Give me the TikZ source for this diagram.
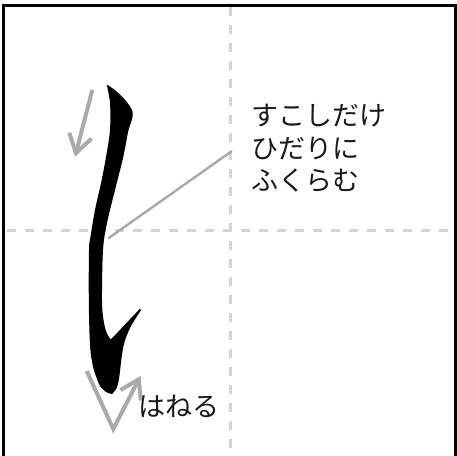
\documentclass[tikz,border=0pt]{standalone}
\usepackage{fontspec}
\newfontfamily\jpfont{Noto Sans CJK JP}
\usetikzlibrary{arrows.meta}
\definecolor{guidegray}{RGB}{212,212,212}
\definecolor{arrowgray}{RGB}{170,170,170}
\tikzset{
  guide/.style={draw=guidegray, line width=3pt, dash pattern=on 9pt off 9pt},
  framebox/.style={draw=black, line width=3pt},
  dirarrow/.style={draw=arrowgray, line width=4pt, -{Straight Barb[length=18pt,width=23pt,line width=4pt]}},
  pointer/.style={draw=arrowgray, line width=2.4pt},
  label/.style={font=\jpfont\fontsize{27}{32}\selectfont, text=black!90, inner sep=0pt, anchor=west},
}
\begin{document}
\begin{tikzpicture}[x=1pt,y=-1pt]
\useasboundingbox (0,0) rectangle (457,455);
\begin{scope}
\clip (0,0) rectangle (457,455);
% guide lines
\draw[guide] (230.5,7) -- (230.5,455);
\draw[guide, dash phase=-2pt] (5,230.5) -- (454,230.5);
% frame
\draw[framebox] (3.5,5.5) rectangle (455,457.5);
\end{scope}
% brush stroke
\fill[black] plot[smooth, tension=0.55] coordinates {(106.7,84.5) (116,91) (126,101) (132.7,112) (131.5,121) (128.3,131) (123.3,156.7) (115,190) (107,223) (103,250) (102,300) (103.5,320) (106.7,333) (110.7,339.5)}
  -- plot[smooth, tension=0.5] coordinates {(110.7,339.5) (116.7,333.3) (126.7,322.7) (135,314) (140,308.5)}
  -- plot[smooth, tension=0.55] coordinates {(140.8,310.5) (136.5,317) (130,328) (124.5,342) (121.7,356.7) (119.3,376.7) (116.7,388) (112,394)}
  -- plot[smooth, tension=0.55] coordinates {(112,394) (106,392) (100,386) (96.7,378) (93,366.7) (90,345) (88.8,300) (89,250) (90.5,236.7) (95,210) (101.7,180) (106.7,153) (110,130) (110,103) (106.7,84.5)}
  -- cycle;
% direction arrows
\coordinate (a1s) at (92.3,90);
\coordinate (a1e) at (75,156.7);
\draw[dirarrow] (a1s) -- (a1e);
\coordinate (a2s) at (86.7,371);
\coordinate (a2m) at (113.3,429);
\coordinate (a2e) at (140.5,376);
\draw[dirarrow] (a2s) -- (a2m) -- (a2e);
% labels
\node[label] (l1) at (251,116) {すこしだけ};
\node[label] (l2) at (251,148) {ひだりに};
\node[label] (l3) at (251,180.5) {ふくらむ};
\node[label] (l4) at (138,406.7) {はねる};
% pointer line
\coordinate (p0) at (108.3,238.3);
\coordinate (p1) at (232,151);
\draw[pointer] (p0) -- (p1);
\end{tikzpicture}
\end{document}
